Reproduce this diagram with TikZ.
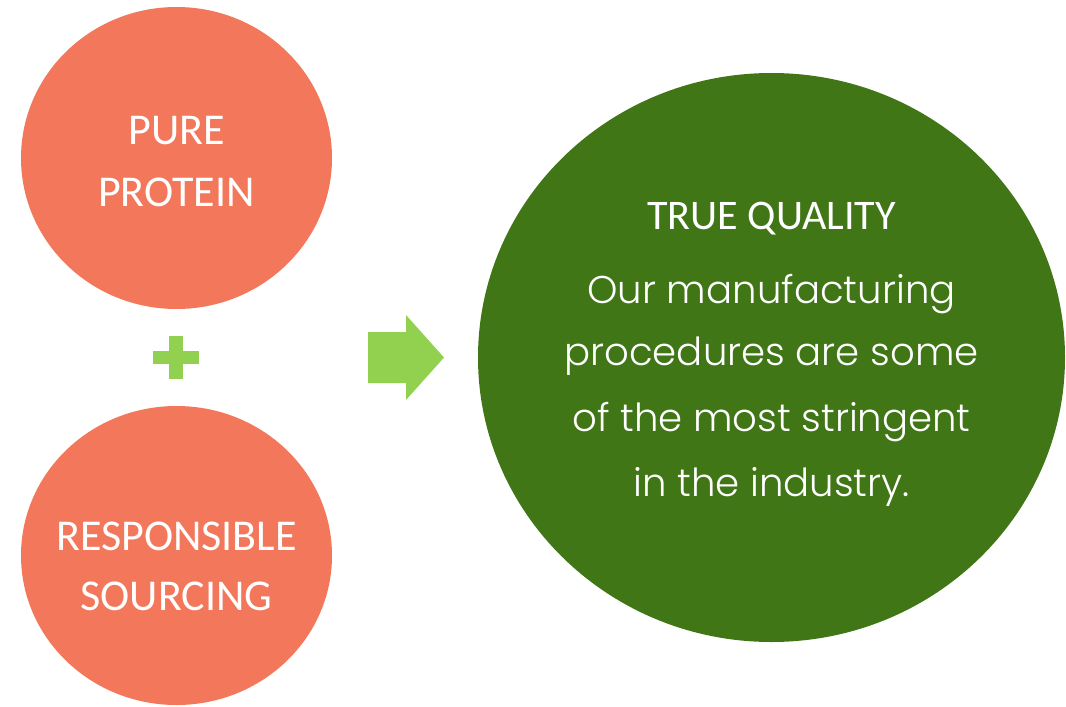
\documentclass[tikz,border=0pt]{standalone}
\usepackage{fontspec}
\setmainfont{Carlito}
\newfontfamily\bodyfont{Poppins Light}
\usetikzlibrary{shapes.geometric}
\definecolor{salmon}{RGB}{242,119,91}
\definecolor{darkgreen}{RGB}{64,118,22}
\definecolor{lightgreen}{RGB}{146,208,80}
\tikzset{
  blob/.style={ellipse, inner sep=0pt, draw=none},
  orangeblob/.style={blob, fill=salmon, minimum width=311*0.75pt},
  capline/.style={anchor=base, text=white, inner sep=0pt, font=\fontsize{33}{36}\selectfont},
  titleline/.style={anchor=base, text=white, inner sep=0pt, font=\fontsize{31.6}{36}\selectfont},
  bodyline/.style={anchor=base, text=white, inner sep=0pt, font=\bodyfont\fontsize{29}{34}\selectfont},
  shapefill/.style={fill=lightgreen, draw=none}
}
\begin{document}
\begin{tikzpicture}[x=0.75pt, y=-0.75pt]
\useasboundingbox (0,0) rectangle (1066,706);
% orange circles
\node[orangeblob, minimum height=302*0.75pt] (pure) at (176.5,158) {};
\node[orangeblob, minimum height=299*0.75pt] (resp) at (176.5,555.5) {};
\node[capline] (pure1) at (176.5,145) {PURE};
\node[capline] (pure2) at (176.5,206.5) {PROTEIN};
\node[capline] (resp1) at (176.5,550) {RESPONSIBLE};
\node[capline] (resp2) at (176.5,610) {SOURCING};
% plus sign
\coordinate (plus) at (176,357.5);
\fill[shapefill] ([xshift=-23*0.75pt, yshift=6.5*0.75pt]plus) rectangle ([xshift=23*0.75pt, yshift=-6.5*0.75pt]plus);
\fill[shapefill] ([xshift=-7*0.75pt, yshift=21.5*0.75pt]plus) rectangle ([xshift=7*0.75pt, yshift=-21.5*0.75pt]plus);
% arrow
\fill[shapefill] (368,332) -- (406,332) -- (406,315) -- (444,357.5) -- (406,400) -- (406,383) -- (368,383) -- cycle;
% green circle
\node[blob, fill=darkgreen, minimum width=587*0.75pt, minimum height=569*0.75pt] (quality) at (771.5,357.5) {};
\node[titleline] (q0) at (771.5,229.7) {TRUE QUALITY};
\node[bodyline] (q1) at (771.5,303) {Our manufacturing};
\node[bodyline] (q2) at (771.5,365) {procedures are some};
\node[bodyline] (q3) at (771.5,431) {of the most stringent};
\node[bodyline] (q4) at (771.5,496.5) {in the industry.};
\end{tikzpicture}
\end{document}
